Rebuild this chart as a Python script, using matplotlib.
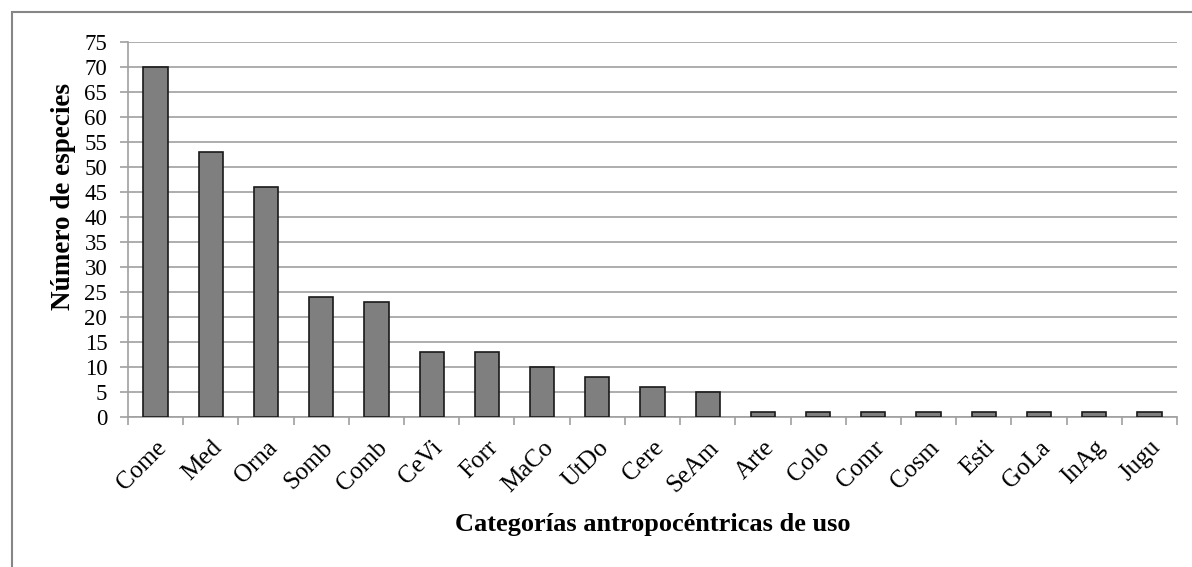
import matplotlib.pyplot as plt
import numpy as np
from matplotlib.patches import Rectangle

categorias = ['Come', 'Med', 'Orna', 'Somb', 'Comb', 'CeVi', 'Forr', 'MaCo', 'UtDo',
              'Cere', 'SeAm', 'Arte', 'Colo', 'Comr', 'Cosm', 'Esti', 'GoLa', 'InAg', 'Jugu']
especies = [70, 53, 46, 24, 23, 13, 13, 10, 8, 6, 5, 1, 1, 1, 1, 1, 1, 1, 1]
y_ticks = np.arange(0, 80, 5)

plt.rcParams['font.family'] = ['Liberation Serif', 'DejaVu Serif']

fig = plt.figure(figsize=(11.92, 5.67), dpi=100)
ax = fig.add_axes([0.1074, 0.2646, 0.8800, 0.6614])

# marco gris del grafico (cortado a la derecha y abajo)
fig.patches.append(Rectangle((12 / 1192, -0.1), 1.2, 1 - 12 / 567 + 0.1,
                             transform=fig.transFigure, fill=False,
                             edgecolor='#868686', linewidth=1.5))

x = np.arange(len(categorias))
ax.bar(x, especies, width=0.44, color='#7f7f7f', edgecolor='#1a1a1a', linewidth=1.2, zorder=3)

ax.set_xlim(-0.5, len(categorias) - 0.5)
ax.set_ylim(0, 75)
ax.set_yticks(y_ticks)
ax.set_yticklabels([str(v) for v in y_ticks], fontsize=16.5)
ax.yaxis.grid(True, color='#a0a0a0', linewidth=1.2, zorder=0)

ax.set_xticks(x)
ax.set_xticklabels(categorias, fontsize=18, rotation=45, ha='right', rotation_mode='anchor')
ax.set_xticks(np.arange(-0.5, len(categorias), 1), minor=True)
ax.tick_params(axis='x', which='major', length=0, pad=14)
ax.tick_params(axis='x', which='minor', length=6, color='#a0a0a0', width=1.2)
ax.tick_params(axis='y', length=6, color='#a0a0a0', width=1.2, pad=9)

for side in ['top', 'right']:
    ax.spines[side].set_visible(False)
for side in ['left', 'bottom']:
    ax.spines[side].set_color('#a0a0a0')
    ax.spines[side].set_linewidth(1.2)

ax.set_ylabel('Número de especies', fontsize=19.5, fontweight='bold')
ax.yaxis.set_label_coords(-0.050, 0.587)
ax.set_xlabel('Categorías antropocéntricas de uso', fontsize=19, fontweight='bold', labelpad=12)

fig.savefig('out.png', dpi=100)
